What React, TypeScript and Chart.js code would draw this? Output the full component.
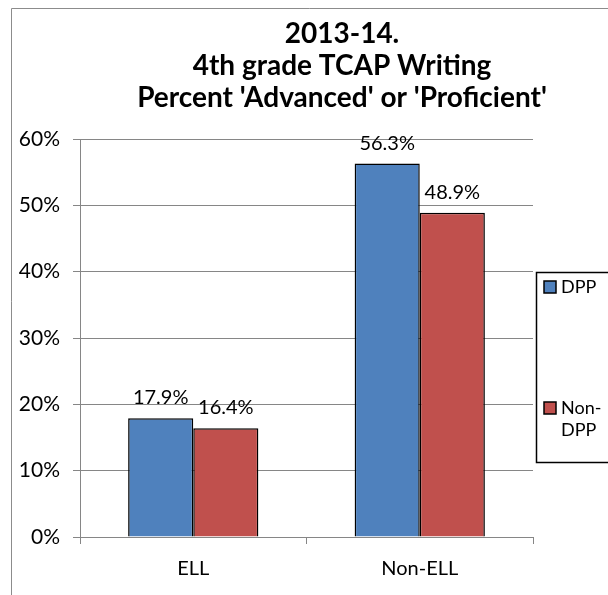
import React, { useEffect, useRef } from "react";
import { Chart, registerables } from "chart.js";

Chart.register(...registerables);

const categories = ["ELL", "Non-ELL"];
const seriesNames = ["DPP", "Non-DPP"];
const dppValues = [17.9, 56.3];
const nonDppValues = [16.4, 48.9];
const yTicks = [0, 10, 20, 30, 40, 50, 60];
const titleLines = ["2013-14.", "4th grade TCAP Writing", "Percent 'Advanced' or 'Proficient'"];

const BLUE = "#4F81BD";
const RED = "#C0504D";
const GRID = "#868686";
const FONT = "Lato, 'Open Sans', sans-serif";

const decorPlugin = {
  id: "decor",
  beforeDraw(chart: any) {
    const ctx = chart.ctx;
    ctx.save();
    ctx.fillStyle = "#ffffff";
    ctx.fillRect(0, 0, chart.width, chart.height);
    // outer frame
    ctx.strokeStyle = "#8c8c8c";
    ctx.lineWidth = 1;
    ctx.beginPath();
    ctx.moveTo(11.5, chart.height);
    ctx.lineTo(11.5, 8.5);
    ctx.lineTo(chart.width, 8.5);
    ctx.stroke();
    ctx.restore();
  },
  afterDraw(chart: any) {
    const ctx = chart.ctx;
    ctx.save();
    // title
    ctx.fillStyle = "#000";
    ctx.font = `bold 28px ${FONT}`;
    ctx.textAlign = "center";
    ctx.textBaseline = "middle";
    titleLines.forEach((t, i) => ctx.fillText(t, 342, 34 + i * 32));

    // value labels
    ctx.font = `20px ${FONT}`;
    ctx.textBaseline = "alphabetic";
    chart.data.datasets.forEach((ds: any, di: number) => {
      const meta = chart.getDatasetMeta(di);
      meta.data.forEach((bar: any, i: number) => {
        ctx.fillText(ds.data[i].toFixed(1) + "%", bar.x, bar.y - 14);
      });
    });

    // legend
    ctx.strokeStyle = "#000";
    ctx.lineWidth = 1.5;
    ctx.strokeRect(536.5, 272.5, 100, 190);
    const colors = [BLUE, RED];
    const entries = [
      { y: 287, lines: ["DPP"] },
      { y: 408, lines: ["Non-", "DPP"] },
    ];
    ctx.font = `18px ${FONT}`;
    ctx.textAlign = "left";
    ctx.textBaseline = "middle";
    entries.forEach((e, i) => {
      ctx.fillStyle = colors[i];
      ctx.fillRect(544, e.y - 6, 12, 12);
      ctx.strokeStyle = "#000";
      ctx.lineWidth = 1.5;
      ctx.strokeRect(544, e.y - 6, 12, 12);
      ctx.fillStyle = "#000";
      e.lines.forEach((l, j) => ctx.fillText(l, 561, e.y + j * 22));
    });
    ctx.restore();
  },
};

export default function App() {
  const ref = useRef<HTMLCanvasElement>(null);
  useEffect(() => {
    if (!ref.current) return;
    const chart = new Chart(ref.current, {
      type: "bar",
      data: {
        labels: categories,
        datasets: [
          {
            label: seriesNames[0],
            data: dppValues,
            backgroundColor: BLUE,
            borderColor: "#000",
            borderWidth: 1.5,
            barPercentage: 1,
            categoryPercentage: 0.575,
          },
          {
            label: seriesNames[1],
            data: nonDppValues,
            backgroundColor: RED,
            borderColor: "#000",
            borderWidth: 1.5,
            barPercentage: 1,
            categoryPercentage: 0.575,
          },
        ],
      },
      options: {
        responsive: false,
        animation: false,
        layout: { padding: { top: 139, right: 75, left: 0, bottom: 0 } },
        plugins: { legend: { display: false }, title: { display: false }, tooltip: { enabled: false } },
        scales: {
          x: {
            grid: {
              display: true,
              offset: true,
              drawOnChartArea: false,
              tickLength: 7,
              color: GRID,
            },
            border: { color: GRID, width: 1 },
            ticks: { color: "#000", font: { family: FONT, size: 20 }, padding: 13 },
            afterFit(scale: any) {
              scale.height = 58;
            },
          },
          y: {
            min: 0,
            max: 60,
            afterBuildTicks(scale: any) {
              scale.ticks = yTicks.map((v) => ({ value: v }));
            },
            grid: { color: GRID, tickLength: 7, lineWidth: 1 },
            border: { color: GRID, width: 1 },
            ticks: {
              color: "#000",
              font: { family: FONT, size: 21 },
              padding: 13,
              callback: (v: any) => v + "%",
            },
            afterFit(scale: any) {
              scale.width = 80;
            },
          },
        },
      },
      plugins: [decorPlugin],
    });
    return () => chart.destroy();
  }, []);
  return (
    <div style={{ position: "absolute", left: 0, top: 0 }}>
      <canvas ref={ref} width={608} height={595} />
    </div>
  );
}
